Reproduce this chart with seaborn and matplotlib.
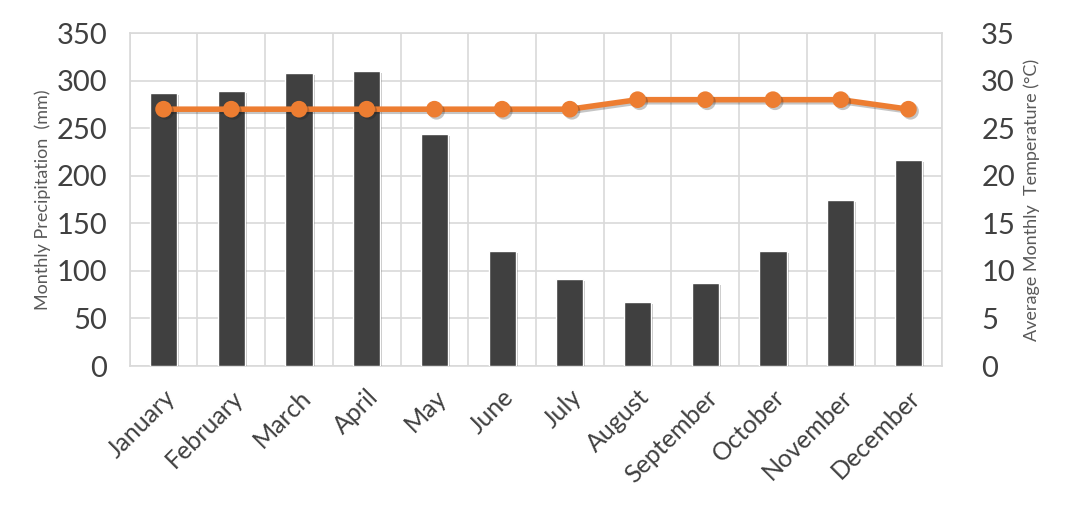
import matplotlib
matplotlib.use("Agg")
import matplotlib.pyplot as plt
import matplotlib.patheffects as pe
import seaborn as sns
import pandas as pd
import numpy as np

# data
months = ["January", "February", "March", "April", "May", "June",
          "July", "August", "September", "October", "November", "December"]
precip_mm = [287, 289, 308, 310, 244, 121, 92, 67, 87, 121, 175, 217]
temp_c = [27, 27, 27, 27, 27, 27, 27, 28, 28, 28, 28, 27]

df = pd.DataFrame({"Month": months, "Precip": precip_mm, "Temp": temp_c})

sns.set_theme(style="white")
plt.rcParams['font.family'] = ['Lato', 'DejaVu Sans']

grid_col = "#d9d9d9"
text_col = "#404040"
bar_col = "#404040"
line_col = "#ed7d31"

fig = plt.figure(figsize=(10.72, 5.17), dpi=100)
ax = fig.add_axes([0.121, 0.292, 0.758, 0.644])

shadow = [pe.SimplePatchShadow(offset=(1.5, -1.5), alpha=0.25), pe.Normal()]

sns.barplot(data=df, x="Month", y="Precip", order=months, color=bar_col,
            saturation=1, width=0.4, ax=ax, zorder=3)
for p in ax.patches:
    p.set_path_effects(shadow)

ax.set_ylim(0, 350)
ax.set_yticks(np.arange(0, 351, 50))
ax.set_xlim(-0.5, 11.5)
ax.set_xticks(np.arange(-0.5, 12, 1), minor=True)
ax.grid(axis="y", color=grid_col, linewidth=1.2, zorder=0)
ax.grid(axis="x", which="minor", color=grid_col, linewidth=1.2, zorder=0)
ax.set_axisbelow(True)
for s in ax.spines.values():
    s.set_color(grid_col)
    s.set_linewidth(1.2)
ax.tick_params(axis="both", which="both", length=0)
ax.tick_params(axis="y", labelsize=21, labelcolor=text_col, pad=16)
ax.tick_params(axis="x", labelsize=18, labelcolor=text_col, pad=14)
plt.setp(ax.get_xticklabels(), rotation=45, ha="right", rotation_mode="anchor")
ax.set_xlabel("")
ax.set_ylabel("Monthly Precipitation  (mm)", fontsize=13, color="#595959", labelpad=4)

ax2 = ax.twinx()
sns.pointplot(data=df, x="Month", y="Temp", order=months, color=line_col,
              markers="o", markersize=9, linewidth=4, ax=ax2, zorder=4)
for ln in ax2.lines:
    ln.set_path_effects([pe.SimpleLineShadow(offset=(1.5, -1.5), alpha=0.25), pe.Normal()])
ax2.set_ylim(0, 35)
ax2.set_yticks(np.arange(0, 36, 5))
ax2.set_xlim(-0.5, 11.5)
for s in ax2.spines.values():
    s.set_visible(False)
ax2.tick_params(axis="y", length=0, labelsize=21, labelcolor=text_col, pad=28)
ax2.set_ylabel("Average Monthly  Temperature (°C)", fontsize=13, color="#595959", labelpad=6)
ax2.grid(False)

fig.savefig("out.png", dpi=100)
